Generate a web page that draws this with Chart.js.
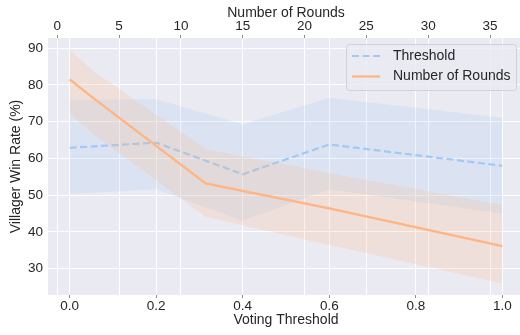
<!DOCTYPE html>
<html>
<head>
<meta charset="utf-8">
<script src="https://cdn.jsdelivr.net/npm/chart.js@4"></script>
<style>
	body { margin: 0; background: #ffffff; }
	#wrap { width: 520px; height: 335px; overflow: hidden; }
</style>
</head>
<body>
<div id="wrap"><canvas id="chart" width="530" height="335"></canvas></div>
<script>
// Voting threshold sweep (bottom axis)
const thresholds = [0.0, 0.2, 0.4, 0.6, 1.0];
const thresholdRate = [62.9, 64.3, 55.7, 63.8, 58.0];
const thresholdUpper = [75.9, 76.1, 69.3, 76.5, 71.1];
const thresholdLower = [50.3, 51.6, 43.0, 51.6, 45.0];

// Number of rounds sweep (top axis)
const rounds = [1, 3, 12, 22, 36];
const roundsRate = [81.5, 76.2, 53.2, 46.4, 36.1];
const roundsUpper = [89.6, 83.6, 62.6, 56.0, 47.3];
const roundsLower = [72.3, 66.4, 44.1, 36.4, 25.9];

// tick labels
const thresholdTicks = [0.0, 0.2, 0.4, 0.6, 0.8, 1.0];
const roundTicks = [0, 5, 10, 15, 20, 25, 30, 35];
const rateTicks = [30, 40, 50, 60, 70, 80, 90];

const blue = '#a1c9f4';
const orange = '#ffb482';
const textColor = '#262626';
const fontFamily = "'Liberation Sans', Arial, sans-serif";

function pts(xs, ys) {
	return xs.map(function (x, i) { return { x: x, y: ys[i] }; });
}

// grey plot background
const bgPlugin = {
	id: 'bg',
	beforeDraw: function (chart) {
		const a = chart.chartArea;
		const ctx = chart.ctx;
		ctx.save();
		ctx.fillStyle = '#eaeaf2';
		ctx.fillRect(a.left, a.top, a.right - a.left, a.bottom - a.top);
		ctx.restore();
	}
};

// legend drawn inside the plot, upper right
const legendPlugin = {
	id: 'innerLegend',
	afterDraw: function (chart) {
		const ctx = chart.ctx;
		ctx.save();
		ctx.beginPath();
		ctx.roundRect(346.5, 44.5, 170, 46, 3);
		ctx.fillStyle = 'rgba(234,234,242,0.8)';
		ctx.fill();
		ctx.strokeStyle = '#d0d0d6';
		ctx.lineWidth = 1;
		ctx.stroke();

		const items = [
			{ label: 'Threshold', color: blue, dash: [7, 3.5], y: 56 },
			{ label: 'Number of Rounds', color: orange, dash: [], y: 76.5 }
		];
		items.forEach(function (it) {
			ctx.beginPath();
			ctx.setLineDash(it.dash);
			ctx.strokeStyle = it.color;
			ctx.lineWidth = 2.2;
			ctx.moveTo(352, it.y);
			ctx.lineTo(380, it.y);
			ctx.stroke();
			ctx.setLineDash([]);
			ctx.fillStyle = textColor;
			ctx.font = '14px ' + fontFamily;
			ctx.textBaseline = 'middle';
			ctx.fillText(it.label, 393, it.y);
		});
		ctx.restore();
	}
};

const ctx = document.getElementById('chart').getContext('2d');

const chart = new Chart(ctx, {
	type: 'line',
	data: {
		datasets: [
			// drawn last = on top
			{
				label: 'Number of Rounds',
				xAxisID: 'x2',
				data: pts(rounds, roundsRate),
				borderColor: orange,
				borderWidth: 2.2,
				pointRadius: 0,
				fill: false
			},
			{
				label: 'rounds upper',
				xAxisID: 'x2',
				data: pts(rounds, roundsUpper),
				borderWidth: 0,
				pointRadius: 0,
				backgroundColor: 'rgba(255,180,130,0.2)',
				fill: { target: 2 }
			},
			{
				label: 'rounds lower',
				xAxisID: 'x2',
				data: pts(rounds, roundsLower),
				borderWidth: 0,
				pointRadius: 0,
				fill: false
			},
			{
				label: 'Threshold',
				xAxisID: 'x',
				data: pts(thresholds, thresholdRate),
				borderColor: blue,
				borderWidth: 2.2,
				borderDash: [7, 3.5],
				pointRadius: 0,
				fill: false
			},
			{
				label: 'threshold upper',
				xAxisID: 'x',
				data: pts(thresholds, thresholdUpper),
				borderWidth: 0,
				pointRadius: 0,
				backgroundColor: 'rgba(161,201,244,0.2)',
				fill: { target: 5 }
			},
			{
				label: 'threshold lower',
				xAxisID: 'x',
				data: pts(thresholds, thresholdLower),
				borderWidth: 0,
				pointRadius: 0,
				fill: false
			}
		]
	},
	options: {
		responsive: false,
		animation: false,
		layout: { padding: { left: 0, right: 6, top: 0, bottom: 0 } },
		plugins: {
			legend: { display: false },
			tooltip: { enabled: false }
		},
		scales: {
			x: {
				type: 'linear',
				position: 'bottom',
				min: -0.05,
				max: 1.05,
				afterBuildTicks: function (s) { s.ticks = thresholdTicks.map(function (v) { return { value: v }; }); },
				afterFit: function (s) { s.height = 40; },
				ticks: {
					color: textColor,
					font: { family: fontFamily, size: 13.5 },
					padding: 0,
					maxRotation: 0,
					callback: function (v) { return v.toFixed(1); }
				},
				grid: { color: '#ffffff', lineWidth: 1, drawTicks: true, tickLength: 3, tickColor: '#8a8a90' },
				border: { display: false },
				title: {
					display: true,
					text: 'Voting Threshold',
					color: textColor,
					font: { family: fontFamily, size: 14 },
					padding: { top: 0, bottom: 6 }
				}
			},
			x2: {
				type: 'linear',
				position: 'top',
				min: -0.75,
				max: 37.75,
				afterBuildTicks: function (s) { s.ticks = roundTicks.map(function (v) { return { value: v }; }); },
				afterFit: function (s) { s.height = 38; },
				ticks: {
					color: textColor,
					font: { family: fontFamily, size: 13.5 },
					padding: 1,
					maxRotation: 0
				},
				grid: { color: '#ffffff', lineWidth: 1, drawTicks: true, tickLength: 3, tickColor: '#8a8a90' },
				border: { display: false },
				title: {
					display: true,
					text: 'Number of Rounds',
					color: textColor,
					font: { family: fontFamily, size: 14 },
					padding: { top: 4.5, bottom: 0 }
				}
			},
			y: {
				min: 22.8,
				max: 92.8,
				afterBuildTicks: function (s) { s.ticks = rateTicks.map(function (v) { return { value: v }; }); },
				afterFit: function (s) { s.width = 48; },
				ticks: {
					color: textColor,
					font: { family: fontFamily, size: 13.5 },
					padding: 5
				},
				grid: { color: '#ffffff', lineWidth: 1, drawTicks: false },
				border: { display: false },
				title: {
					display: true,
					text: 'Villager Win Rate (%)',
					color: textColor,
					font: { family: fontFamily, size: 14 },
					padding: { top: 8, bottom: 0 }
				}
			}
		}
	},
	plugins: [bgPlugin, legendPlugin]
});
</script>
</body>
</html>
